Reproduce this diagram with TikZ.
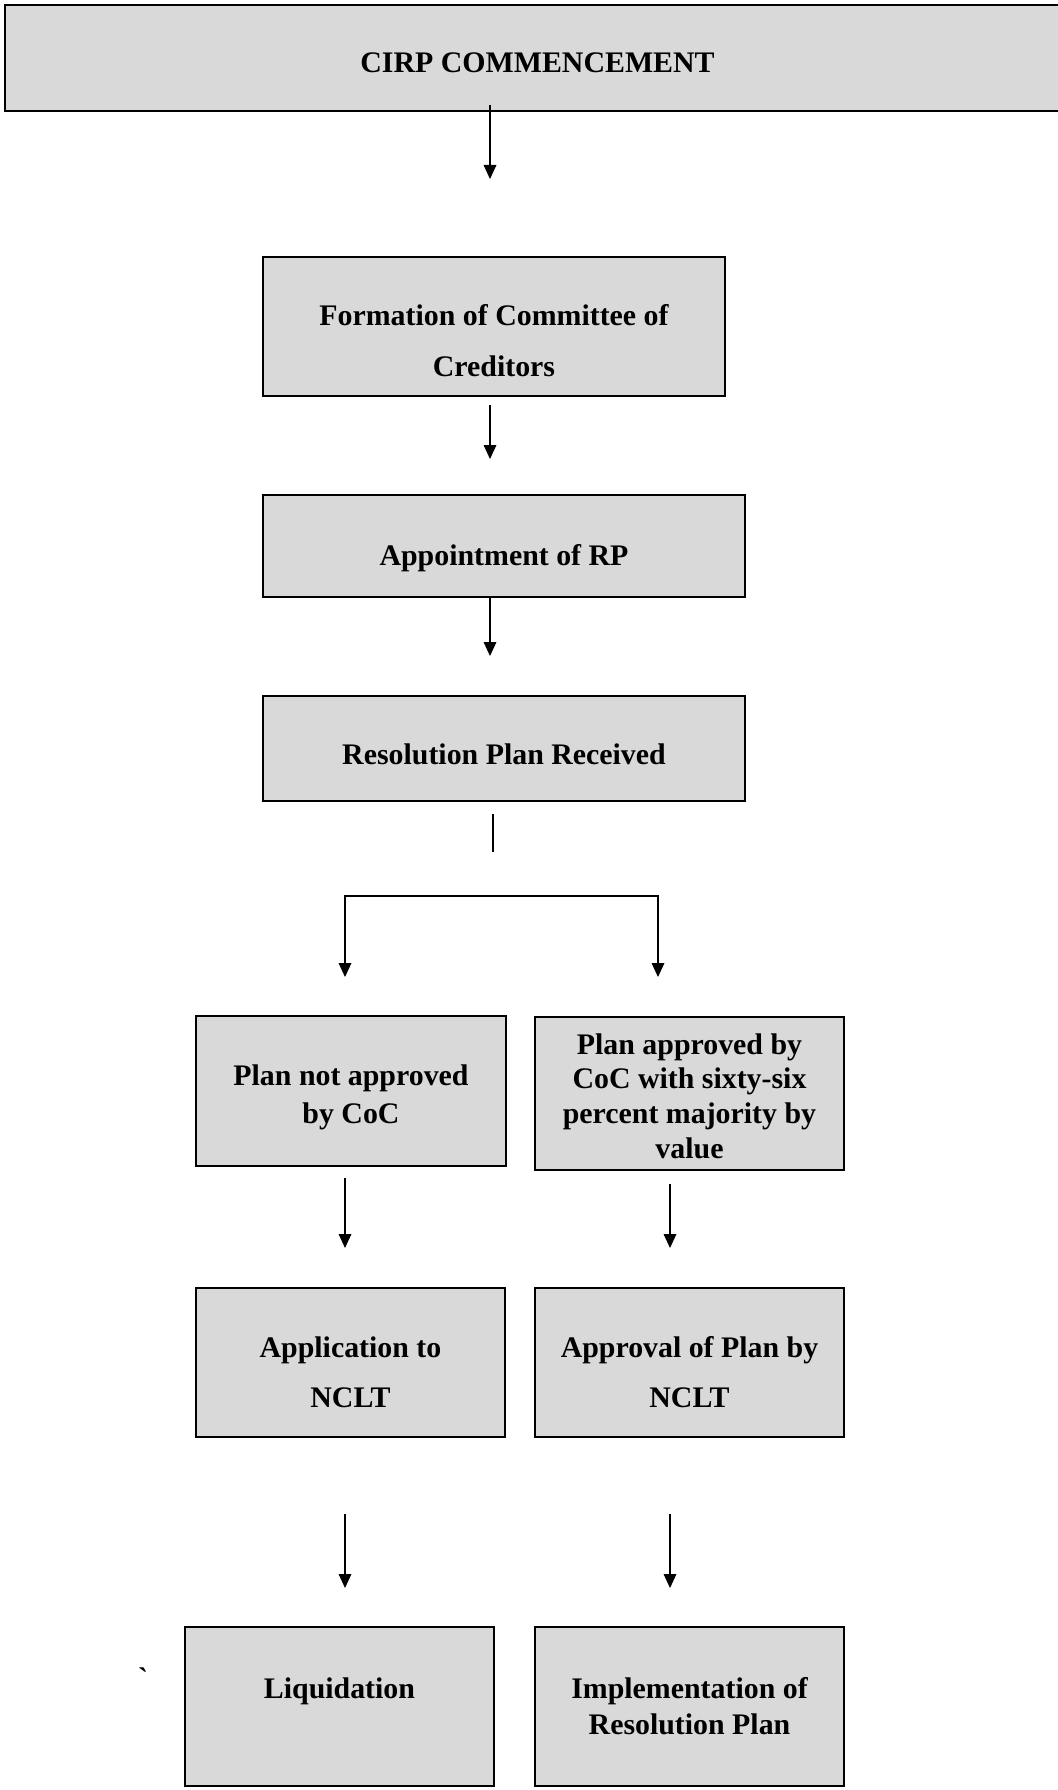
\documentclass[tikz,border=0pt]{standalone}
\usepackage{fontspec}
\setmainfont{Liberation Serif}
\usetikzlibrary{arrows.meta}
\definecolor{boxgray}{RGB}{217,217,217}
\tikzset{
  stage/.style={draw=black, fill=boxgray, line width=0.9pt, inner sep=0pt, outer sep=0pt,
    align=center, font=\fontsize{22.4}{27}\selectfont\bfseries},
  stagesize/.style 2 args={minimum width=#1, minimum height=#2},
  tdim/.style 2 args={text height=#1, text depth=#2},
  flow/.style={line width=0.85pt, -{Triangle[length=10.5pt,width=9.5pt]}},
  split/.style={line width=0.85pt, {Triangle[length=10.5pt,width=9.5pt]}-{Triangle[length=10.5pt,width=9.5pt]}}
}

\begin{document}
\begin{tikzpicture}[x=0.75pt,y=0.75pt,yscale=-1,xscale=1]
\useasboundingbox (0,0) rectangle (1057,1790);
% stages
\node[stage, stagesize={798.75pt}{79.5pt}, tdim={22.5pt}{0pt}] (cirp) at (537.5,58) {CIRP COMMENCEMENT};
\node[stage, stagesize={346.5pt}{104.25pt}, tdim={74.25pt}{0pt}] (coc) at (494,326.5) {Formation of Committee of\\[11.25pt]Creditors};
\node[stage, stagesize={361.5pt}{76.5pt}, tdim={28.5pt}{0pt}] (rp) at (504,546) {Appointment of RP};
\node[stage, stagesize={361.5pt}{78.75pt}, tdim={23.25pt}{0pt}] (recv) at (504,748.5) {Resolution Plan Received};
\node[stage, stagesize={232.5pt}{112.5pt}, tdim={48pt}{0pt}] (notappr) at (351,1091) {Plan not approved\\[1.5pt]by CoC};
\node[stage, stagesize={231.75pt}{114.75pt}, tdim={96.75pt}{0pt}] (appr) at (689.5,1093.5) {Plan approved by\\[-1pt]CoC with sixty-six\\[-1pt]percent majority by\\[-1pt]value};
\node[stage, stagesize={231.75pt}{111.75pt}, tdim={66.75pt}{0pt}] (applic) at (350.5,1362.5) {Application to\\[10.5pt]NCLT};
\node[stage, stagesize={231.75pt}{111.75pt}, tdim={66.75pt}{0pt}] (nclt) at (689.5,1362.5) {Approval of Plan by\\[10.5pt]NCLT};
\node[stage, stagesize={231.75pt}{119.25pt}, tdim={15pt}{27.75pt}] (liq) at (339.5,1706.5) {Liquidation};
\node[stage, stagesize={231.75pt}{119.25pt}, tdim={41.25pt}{0pt}] (impl) at (689.5,1706.5) {Implementation of\\Resolution Plan};
\node[font=\fontsize{22.4}{27}\selectfont\bfseries, inner sep=0pt] (tick) at (143,1678) {\textasciigrave};

% arrow ends
\coordinate (a1s) at (490,105);  \coordinate (a1e) at (490,179);
\coordinate (a2s) at (490,405);  \coordinate (a2e) at (490,459);
\coordinate (a3s) at (490,598);  \coordinate (a3e) at (490,656);
\coordinate (l1s) at (493,814);  \coordinate (l1e) at (493,852);
\coordinate (bl) at (345,977);   \coordinate (bm) at (500,896);   \coordinate (br) at (658,977);
\coordinate (a4s) at (345,1178); \coordinate (a4e) at (345,1248);
\coordinate (a5s) at (670,1184); \coordinate (a5e) at (670,1248);
\coordinate (a6s) at (345,1514); \coordinate (a6e) at (345,1588);
\coordinate (a7s) at (670,1514); \coordinate (a7e) at (670,1588);

% connectors
\draw[flow] (a1s) -- (a1e);
\draw[flow] (a2s) -- (a2e);
\draw[flow] (a3s) -- (a3e);
\draw[line width=0.85pt] (l1s) -- (l1e);
\draw[split] (bl) |- (bm) -| (br);
\draw[flow] (a4s) -- (a4e);
\draw[flow] (a5s) -- (a5e);
\draw[flow] (a6s) -- (a6e);
\draw[flow] (a7s) -- (a7e);
\end{tikzpicture}
\end{document}
